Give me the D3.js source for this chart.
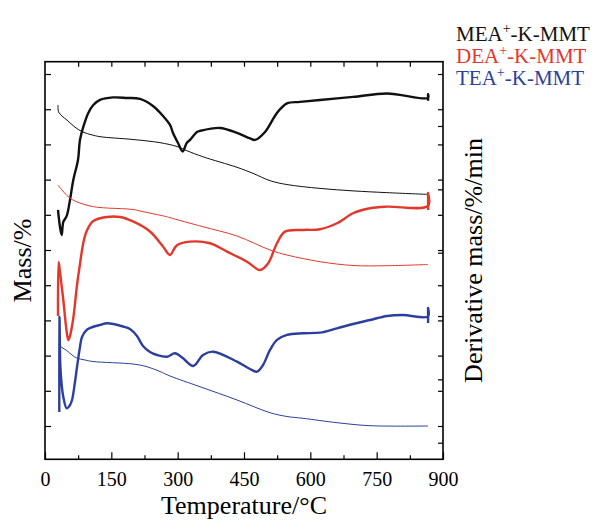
<!DOCTYPE html>
<html>
<head>
<meta charset="utf-8">
<script src="https://cdn.jsdelivr.net/npm/d3@7"></script>
<style>
  body { margin: 0; background: #fff; }
  text { font-family: "Liberation Serif", "Times New Roman", serif; }
</style>
</head>
<body>
<div id="chart"></div>
<script>
// x ticks (temperature, °C)
const majorTicks = [0, 150, 300, 450, 600, 750, 900];
const minorTicks = [75, 225, 375, 525, 675, 825];
const topTicks = [75, 150, 225, 300, 375, 450, 525, 600, 675, 750, 825];
// unlabelled y ticks
const massTicks = [10, 20, 30, 40, 50, 60, 70, 80, 90, 100, 110];
const derivTicks = [0, 1, 2, 3, 4, 5];

// MEA+-K-MMT
const meaTgT = [29.4, 30.8, 38.4, 49.8, 67.8, 85.9, 106.3, 124.4, 199, 260, 298.5, 321, 357, 434, 470, 509, 547, 622, 696.5, 773, 866];
const meaTgMass = [101.2, 99.2, 98.07, 96.9, 94.9, 93.5, 92.7, 92.2, 91.4, 90.5, 89.4, 88.2, 86.5, 83.5, 81.8, 79.7, 78.6, 77.5, 76.8, 76.3, 75.8];
const meaDtgT = [29.4, 33.9, 37.8, 41.4, 49.1, 56.5, 64, 74.6, 79.1, 86.6, 97.9, 109.2, 124.4, 153.8, 185.4, 214.8, 244.2, 266.8, 282.7, 289.5, 300.8, 311.4, 320.4, 327.9, 343.7, 350.5, 395.7, 434.2, 463.6, 474.9, 497.5, 524.6, 547.2, 576.7, 621.9, 696.5, 773.4, 866.1, 866.2, 866.3];
const meaDtg = [3.674, 3.406, 3.28, 3.485, 3.58, 3.832, 4.148, 4.464, 4.78, 4.985, 5.206, 5.332, 5.411, 5.451, 5.443, 5.427, 5.317, 5.159, 5.017, 4.89, 4.732, 4.598, 4.732, 4.78, 4.906, 4.922, 4.969, 4.89, 4.803, 4.78, 4.906, 5.206, 5.356, 5.38, 5.411, 5.459, 5.514, 5.443, 5.5, 5.4];

// DEA+-K-MMT
const deaTgT = [29.4, 38.4, 49.8, 61.1, 79.1, 101.8, 124.4, 199, 214.8, 275.2, 282.7, 357, 434, 509, 547, 622, 696.5, 773, 866];
const deaTgMass = [78.47, 77.05, 75.48, 74.35, 73.35, 72.5, 72.07, 71.51, 71.08, 69.46, 69.18, 66.62, 63.98, 60, 58.58, 56.68, 55.6, 55.54, 55.88];
const deaDtgT = [29.4, 30.8, 33.9, 41.4, 49.1, 52.7, 56.5, 64, 72.4, 79.1, 86.6, 94.3, 109.2, 139.5, 169.6, 199, 237.4, 266.8, 282.7, 297.8, 327.9, 373.1, 411.6, 456.8, 486.2, 504.3, 524.6, 542.7, 583.4, 621.9, 660.3, 696.5, 735, 773.4, 866.1, 866.2, 866.3];
const deaDtg = [2.001, 2.853, 2.695, 2.253, 1.748, 1.622, 1.685, 1.969, 2.49, 2.822, 3.153, 3.343, 3.501, 3.564, 3.564, 3.493, 3.335, 3.098, 2.964, 3.114, 3.174, 3.149, 3.016, 2.858, 2.727, 2.83, 3.149, 3.332, 3.359, 3.37, 3.464, 3.622, 3.701, 3.727, 3.738, 3.943, 3.674];

// TEA+-K-MMT
const teaTgT = [29.4, 38.4, 49.1, 61.1, 71.7, 90.5, 108.5, 199, 230.6, 260, 282.7, 350.5, 434.2, 508.8, 547.2, 583.4, 660.3, 735, 866.1];
const teaTgMass = [33.3, 32.3, 31.45, 30.17, 29.32, 28.75, 28.32, 27.61, 26.85, 25.48, 24.2, 21.16, 17.39, 13.78, 12.7, 12.19, 10.94, 10.09, 10];
const teaDtgT = [32.3, 32.8, 34.6, 37.8, 41.4, 49.1, 56.5, 61.1, 67.8, 72.4, 79.1, 83.7, 94.3, 101.8, 124.4, 140.2, 176.4, 192.2, 208, 221.6, 237.4, 253.3, 275.9, 294, 312.1, 335.4, 357.3, 379.9, 434.2, 463.6, 479.4, 493, 508.8, 524.6, 547.2, 583.4, 621.9, 660.3, 696.5, 735, 773.4, 809.6, 866.1, 866.2, 866.3];
const teaDtg = [0.485, 1.985, 1.227, 0.911, 0.722, 0.543, 0.595, 0.674, 0.958, 1.195, 1.511, 1.669, 1.78, 1.811, 1.859, 1.885, 1.835, 1.795, 1.685, 1.527, 1.432, 1.385, 1.358, 1.412, 1.333, 1.211, 1.385, 1.437, 1.279, 1.164, 1.121, 1.227, 1.464, 1.622, 1.701, 1.727, 1.737, 1.806, 1.874, 1.937, 2.001, 2.016, 1.993, 2.127, 1.89];

const series = [
  { name: 'MEA', color: '#111111', tgT: meaTgT, tg: meaTgMass, dtgT: meaDtgT, dtg: meaDtg },
  { name: 'DEA', color: '#e2382c', tgT: deaTgT, tg: deaTgMass, dtgT: deaDtgT, dtg: deaDtg },
  { name: 'TEA', color: '#2c3f9e', tgT: teaTgT, tg: teaTgMass, dtgT: teaDtgT, dtg: teaDtg }
];

const width = 601, height = 520;
const plot = { left: 45, right: 443, top: 61.7, bottom: 459.3 };

const svg = d3.select('#chart')
  .append('svg')
  .attr('width', width)
  .attr('height', height);

const xScale = d3.scaleLinear().domain([0, 900]).range([plot.left, plot.right]);
const yMass = d3.scaleLinear().domain([0.54, 113.5]).range([plot.bottom, plot.top]);
const yDeriv = d3.scaleLinear().domain([-0.262, 6.015]).range([plot.bottom, plot.top]);

function styleAxis(g) {
  g.select('.domain').remove();
  g.selectAll('line').attr('stroke', '#000').attr('stroke-width', 1.2);
  g.attr('font-family', null).attr('font-size', null);
}

// bottom axis, labelled
svg.append('g')
  .attr('transform', `translate(0,${plot.bottom})`)
  .call(d3.axisBottom(xScale).tickValues(majorTicks).tickSize(-7).tickPadding(12.5))
  .call(styleAxis)
  .selectAll('text')
  .attr('fill', '#000')
  .style('font-size', '20px');

svg.append('g')
  .attr('transform', `translate(0,${plot.bottom})`)
  .call(d3.axisBottom(xScale).tickValues(minorTicks).tickSize(-4).tickFormat(''))
  .call(styleAxis);

svg.append('g')
  .attr('transform', `translate(0,${plot.top})`)
  .call(d3.axisTop(xScale).tickValues(topTicks).tickSize(-5).tickFormat(''))
  .call(styleAxis);

svg.append('g')
  .attr('transform', `translate(${plot.left},0)`)
  .call(d3.axisLeft(yMass).tickValues(massTicks).tickSize(-6).tickFormat(''))
  .call(styleAxis);

svg.append('g')
  .attr('transform', `translate(${plot.right},0)`)
  .call(d3.axisRight(yMass).tickValues(massTicks).tickSize(-5).tickFormat(''))
  .call(styleAxis);

svg.append('g')
  .attr('transform', `translate(${plot.right},0)`)
  .call(d3.axisRight(yDeriv).tickValues(derivTicks).tickSize(-5).tickFormat(''))
  .call(styleAxis);

// frame
svg.append('rect')
  .attr('x', plot.left)
  .attr('y', plot.top)
  .attr('width', plot.right - plot.left)
  .attr('height', plot.bottom - plot.top)
  .attr('fill', 'none')
  .attr('stroke', '#000')
  .attr('stroke-width', 1.6);

const tgLine = d3.line()
  .x((d) => xScale(d[0]))
  .y((d) => yMass(d[1]))
  .curve(d3.curveCatmullRom.alpha(0.5));
const dtgLine = d3.line()
  .x((d) => xScale(d[0]))
  .y((d) => yDeriv(d[1]))
  .curve(d3.curveCatmullRom.alpha(0.5));

series.forEach((s) => {
  svg.append('path')
    .attr('d', tgLine(d3.zip(s.tgT, s.tg)))
    .attr('fill', 'none')
    .attr('stroke', s.color)
    .attr('stroke-width', 1);

  svg.append('path')
    .attr('d', dtgLine(d3.zip(s.dtgT, s.dtg)))
    .attr('fill', 'none')
    .attr('stroke', s.color)
    .attr('stroke-width', 2.4)
    .attr('stroke-linejoin', 'round');
});

// axis titles
svg.append('text')
  .attr('x', (plot.left + plot.right) / 2)
  .attr('y', 514)
  .attr('text-anchor', 'middle')
  .style('font-size', '26px')
  .text('Temperature/°C');

svg.append('text')
  .attr('transform', `translate(31,${(plot.top + plot.bottom) / 2}) rotate(-90)`)
  .attr('text-anchor', 'middle')
  .style('font-size', '26px')
  .text('Mass/%');

svg.append('text')
  .attr('transform', `translate(482,${(plot.top + plot.bottom) / 2}) rotate(-90)`)
  .attr('text-anchor', 'middle')
  .style('font-size', '26px')
  .text('Derivative mass/%/min');

// legend
const legend = svg.append('g');
series.forEach((s, i) => {
  const t = legend.append('text')
    .attr('x', 456)
    .attr('y', 41 + i * 22)
    .attr('fill', s.color)
    .style('font-size', '21px');
  t.append('tspan').text(s.name);
  t.append('tspan').attr('dy', -8).style('font-size', '14px').text('+');
  t.append('tspan').attr('dy', 8).text('-K-MMT');
});
</script>
</body>
</html>
